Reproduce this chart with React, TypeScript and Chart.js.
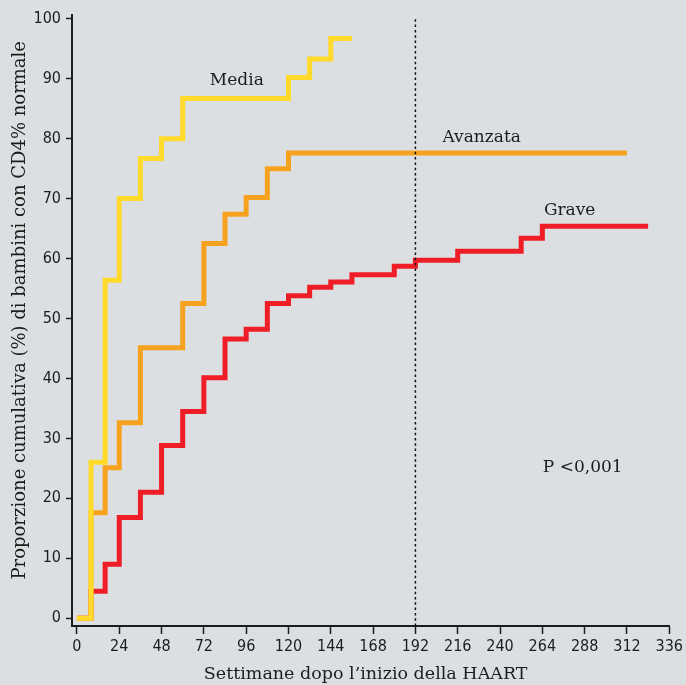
import React, { useEffect, useRef } from "react";
import { Chart, registerables } from "chart.js";

Chart.register(...registerables);

// ---- Data (weeks since HAART start, cumulative % with normal CD4%) ----
const mediaWeeks = [0, 8, 16, 24, 36, 48, 60, 120, 132, 144, 156];
const mediaValues = [0, 26, 56.4, 70, 76.7, 80, 86.7, 90.2, 93.3, 96.7, 96.7];

const avanzataWeeks = [0, 8, 16, 24, 36, 60, 72, 84, 96, 108, 120, 312];
const avanzataValues = [0, 17.6, 25.1, 32.6, 45.1, 52.5, 62.5, 67.4, 70.2, 75, 77.6, 77.6];

const graveWeeks = [0, 8, 16, 24, 36, 48, 60, 72, 84, 96, 108, 120, 132, 144, 156, 180, 192, 216, 252, 264, 324];
const graveValues = [0, 4.5, 9.0, 16.8, 21.0, 28.8, 34.5, 40.1, 46.6, 48.2, 52.5, 53.8, 55.2, 56.1, 57.3, 58.7, 59.7, 61.2, 63.4, 65.4, 65.4];

const refLineWeeks = [192, 192];
const refLineValues = [-1.3, 100];

const xTicks = [0, 24, 48, 72, 96, 120, 144, 168, 192, 216, 240, 264, 288, 312, 336];
const yTicks = [0, 10, 20, 30, 40, 50, 60, 70, 80, 90, 100];

const seriesLabels = ["Media", "Avanzata", "Grave"];
const annotationTexts = ["Media", "Avanzata", "Grave", "P <0,001"];
const annotationWeeks = [90.7, 229.6, 279.5, 286.9];
const annotationValues = [89.7, 80.2, 68.0, 25.1];

const xTitle = "Settimane dopo l\u2019inizio della HAART";
const yTitle = "Proporzione cumulativa (%) di bambini con CD4% normale";

const SERIF = "'DejaVu Serif', serif";
const SANS = "'DejaVu Sans Condensed', 'DejaVu Sans', sans-serif";
const INK = "#1c1c1c";

const toXY = (xs: number[], ys: number[]) => xs.map((x, i) => ({ x, y: ys[i] }));

const textPlugin = {
  id: "texts",
  afterDraw(chart: any) {
    const { ctx, chartArea } = chart;
    const xs = chart.scales.x;
    const ys = chart.scales.y;
    ctx.save();
    ctx.fillStyle = INK;
    ctx.font = `17px ${SERIF}`;
    ctx.textAlign = "center";
    ctx.textBaseline = "middle";
    annotationTexts.forEach((t, i) => {
      ctx.fillText(t, xs.getPixelForValue(annotationWeeks[i]), ys.getPixelForValue(annotationValues[i]));
    });
    // axis titles
    ctx.font = `17.5px ${SERIF}`;
    ctx.fillText(xTitle, (chartArea.left + chartArea.right) / 2 - 5, 674);
    ctx.font = `18px ${SERIF}`;
    ctx.translate(20, (chartArea.top + chartArea.bottom) / 2 - 10);
    ctx.rotate(-Math.PI / 2);
    ctx.fillText(yTitle, 0, 0);
    ctx.restore();
  },
};

export default function App() {
  const ref = useRef<HTMLCanvasElement>(null);
  useEffect(() => {
    if (!ref.current) return;
    const stepStyle = {
      borderWidth: 5,
      stepped: true as const,
      pointRadius: 0,
      borderJoinStyle: "miter" as const,
      borderCapStyle: "butt" as const,
      fill: false,
    };
    const chart = new Chart(ref.current, {
      type: "line",
      data: {
        datasets: [
          {
            label: "ref",
            data: toXY(refLineWeeks, refLineValues),
            borderColor: "#111111",
            borderWidth: 1.5,
            borderDash: [2.5, 2.8],
            pointRadius: 0,
            fill: false,
          },
          { label: seriesLabels[0], data: toXY(mediaWeeks, mediaValues), borderColor: "#ffda2b", ...stepStyle },
          { label: seriesLabels[1], data: toXY(avanzataWeeks, avanzataValues), borderColor: "#f7a21e", ...stepStyle },
          { label: seriesLabels[2], data: toXY(graveWeeks, graveValues), borderColor: "#ee1d26", ...stepStyle },
        ],
      },
      options: {
        animation: false,
        responsive: false,
        layout: { padding: { left: 0, top: 12, right: 16, bottom: 0 } },
        plugins: { legend: { display: false }, tooltip: { enabled: false } },
        scales: {
          x: {
            type: "linear",
            min: -2.8,
            max: 336,
            afterBuildTicks: (s: any) => {
              s.ticks = xTicks.map((v) => ({ value: v }));
            },
            afterFit: (s: any) => {
              s.height = 59;
            },
            grid: { drawOnChartArea: false, drawTicks: true, tickLength: 8, tickWidth: 1.5, tickColor: INK },
            border: { display: true, color: INK, width: 2 },
            ticks: { font: { family: SANS, size: 16 }, color: INK, padding: 3, maxRotation: 0, autoSkip: false },
          },
          y: {
            type: "linear",
            min: -1.3,
            max: 100.7,
            afterBuildTicks: (s: any) => {
              s.ticks = yTicks.map((v) => ({ value: v }));
            },
            afterFit: (s: any) => {
              s.width = 72;
            },
            grid: { drawOnChartArea: false, drawTicks: true, tickLength: 6, tickWidth: 1.5, tickColor: INK },
            border: { display: true, color: INK, width: 2 },
            ticks: { font: { family: SANS, size: 16 }, color: INK, padding: 5, autoSkip: false },
          },
        },
      },
      plugins: [textPlugin],
    } as any);
    return () => chart.destroy();
  }, []);

  return (
    <div style={{ position: "fixed", left: 0, top: 0, width: 686, height: 685, background: "#dcdfe2" }}>
      <canvas ref={ref} width={686} height={685} style={{ display: "block" }} />
    </div>
  );
}
